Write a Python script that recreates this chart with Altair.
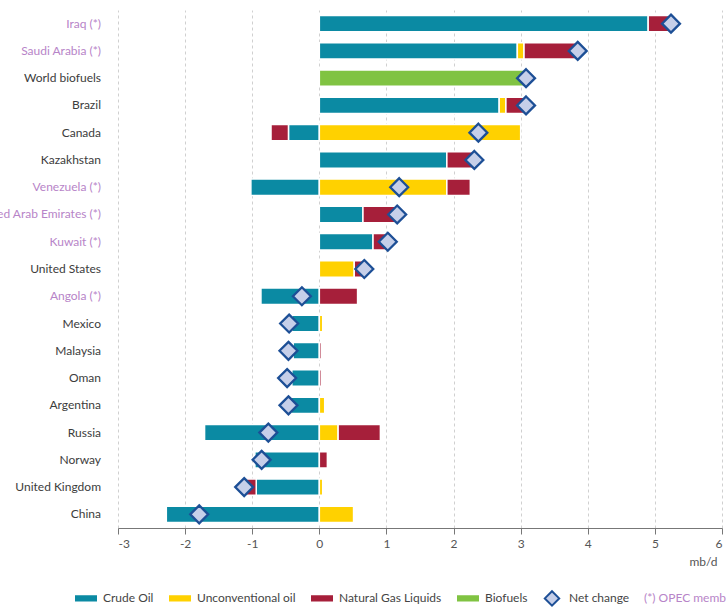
import altair as alt
import pandas as pd

# Change in liquids supply by country and source (mb/d)
countries = [
    "Iraq (*)", "Saudi Arabia (*)", "World biofuels", "Brazil", "Canada",
    "Kazakhstan", "Venezuela (*)", "United Arab Emirates (*)", "Kuwait (*)",
    "United States", "Angola (*)", "Mexico", "Malaysia", "Oman", "Argentina",
    "Russia", "Norway", "United Kingdom", "China",
]
opec = [True, True, False, False, False, False, True, True, True,
        False, True, False, False, False, False, False, False, False, False]

crude = [4.90, 2.95, 0, 2.68, -0.46, 1.90, -1.02, 0.65, 0.80,
         0, -0.87, -0.41, -0.39, -0.41, -0.42, -1.71, -0.96, -0.94, -2.28]
unconventional = [0, 0.10, 0, 0.10, 3.00, 0, 1.90, 0, 0,
                  0.52, 0, 0.05, 0, 0, 0.08, 0.28, 0, 0.05, 0.51]
ngl = [0.33, 0.80, 0, 0.32, -0.26, 0.40, 0.35, 0.52, 0.22,
       0.14, 0.57, 0, 0.03, 0.03, 0, 0.63, 0.12, -0.15, 0]
biofuels = [0, 0, 3.08, 0, 0, 0, 0, 0, 0,
            0, 0, 0, 0, 0, 0, 0, 0, 0, 0]
net_change = [5.24, 3.85, 3.08, 3.08, 2.37, 2.31, 1.19, 1.16, 1.02,
              0.67, -0.26, -0.45, -0.46, -0.48, -0.46, -0.76, -0.86, -1.12, -1.79]

series_names = ["Crude Oil", "Unconventional oil", "Natural Gas Liquids", "Biofuels", "Net change"]
fill_colors = ["#0b8aa3", "#ffd100", "#a61f3a", "#80c342", "#c6cfe9"]
stroke_colors = ["#0b8aa3", "#ffd100", "#a61f3a", "#80c342", "#1d4f96"]
OPEC_COLOR = "#b784c8"
TEXT_COLOR = "#3c3c3c"
FONT = "Lato"

# Legend swatch: a flat bar, padded with zero-length subpaths so every
# legend entry has the same height as the diamond and all labels line up
RECT = "M-1,-0.22H1V0.22H-1Z M0,-0.72L0,-0.72 M0,0.72L0,0.72"
DIAMOND = "M0,-0.72L0.72,0L0,0.72L-0.72,0Z"
shapes = [RECT, RECT, RECT, RECT, DIAMOND]

X_MIN, X_MAX = -3, 6
W, H = 604, 518

rows = []
for i, c in enumerate(countries):
    for k, vals in enumerate([crude, unconventional, ngl, biofuels]):
        if vals[i] != 0:
            rows.append({"country": c, "series": series_names[k], "order": k, "value": vals[i]})
bars_df = pd.DataFrame(rows)
net_df = pd.DataFrame({"country": countries, "series": "Net change", "value": net_change})
labels_df = pd.DataFrame({"country": countries, "opec": opec})
note_df = pd.DataFrame({"note": ["(*) OPEC members"]})

# Bars colour their segments with the four supply sources only
bar_scale = alt.Scale(domain=series_names[:4], range=fill_colors[:4])
# The legend is built from the net-change layer over all five entries
fill_scale = alt.Scale(domain=series_names, range=fill_colors)
shape_scale = alt.Scale(domain=series_names, range=shapes)
stroke_scale = alt.Scale(domain=series_names, range=stroke_colors)
y_scale = alt.Scale(domain=countries, paddingInner=0.4, paddingOuter=0.2)
x_scale = alt.Scale(domain=[X_MIN, X_MAX], nice=False, zero=False)

x_axis = alt.Axis(
    values=list(range(X_MIN, X_MAX + 1)), labelExpr="'' + datum.value",
    grid=True, gridDash=[3, 3], gridColor="#d0d0d0",
    domainColor="#777", tickColor="#777", tickSize=6, labelColor="#555", labelFontSize=12,
    labelPadding=4, title="mb/d", titleAnchor="end", titleAlign="right", titleX=W - 5,
    titleFontWeight="normal", titleFontSize=12, titleColor="#555", titlePadding=7,
)
# Category axis drawn along the zero line
zero_axis = alt.Axis(
    orient="left", offset=-W * (0 - X_MIN) / (X_MAX - X_MIN), labels=False, domain=True,
    domainColor="#222", ticks=True, tickBand="extent", tickSize=5, tickColor="#888",
    grid=False, title=None, zindex=1,
)

legend = alt.Legend(
    orient="none", legendX=-43, legendY=577, direction="horizontal", title=None,
    symbolSize=400, symbolStrokeWidth=2, labelFontSize=12, labelColor="#444",
    labelFont=FONT, labelOffset=6, columnPadding=12, padding=0,
)

bars = alt.Chart(bars_df).mark_bar(stroke="white", strokeWidth=1.5).encode(
    x=alt.X("value:Q", stack="zero", scale=x_scale, axis=x_axis),
    y=alt.Y("country:N", sort=countries, scale=y_scale, axis=zero_axis),
    color=alt.Color("series:N", scale=bar_scale, legend=None),
    order=alt.Order("order:Q"),
)

points = alt.Chart(net_df).mark_point(filled=True, size=620, strokeWidth=2.3, opacity=1).encode(
    x=alt.X("value:Q", scale=x_scale),
    y=alt.Y("country:N", sort=countries, scale=y_scale, axis=None),
    fill=alt.Fill("series:N", scale=fill_scale, legend=legend),
    shape=alt.Shape("series:N", scale=shape_scale, legend=legend),
    stroke=alt.Stroke("series:N", scale=stroke_scale, legend=legend),
)

labels = alt.Chart(labels_df).mark_text(
    align="right", baseline="middle", dx=-17, fontSize=12, font=FONT
).encode(
    x=alt.datum(X_MIN),
    y=alt.Y("country:N", sort=countries, scale=y_scale, axis=None),
    text="country:N",
    color=alt.condition("datum.opec", alt.value(OPEC_COLOR), alt.value(TEXT_COLOR)),
)

note = alt.Chart(note_df).mark_text(
    align="left", baseline="middle", fontSize=12, font=FONT, color=OPEC_COLOR
).encode(x=alt.value(526), y=alt.value(588), text="note:N")

chart = (
    alt.layer(bars, points, labels, note)
    .properties(width=W, height=H, autosize=alt.AutoSizeParams(type="none"),
                padding={"left": 118, "top": 10, "right": 4, "bottom": 86})
    .configure_view(stroke=None)
    .configure_axis(labelFont=FONT, titleFont=FONT)
)

chart.save("out.html", embed_options={"renderer": "svg", "actions": False})
